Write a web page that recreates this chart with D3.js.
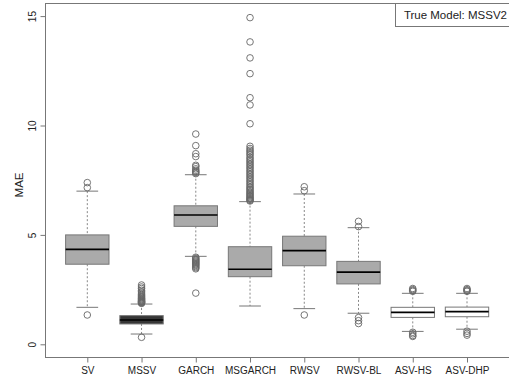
<!DOCTYPE html>
<html>
<head>
  <meta charset="utf-8">
  <title>MAE boxplots</title>
  <script src="https://d3js.org/d3.v7.min.js"></script>
  <style>
    body { margin: 0; background: #fff; font-family: "Liberation Sans", Arial, sans-serif; }
    svg { display: block; }
    .tick text { fill: #222; }
  </style>
</head>
<body>
  <svg width="509" height="384"></svg>
  <script>
    // categories and five-number summaries
    var models = ["SV", "MSSV", "GARCH", "MSGARCH", "RWSV", "RWSV-BL", "ASV-HS", "ASV-DHP"];
    var lowWhisker = [1.69, 0.47, 4.02, 1.75, 1.63, 1.42, 0.59, 0.69];
    var q1 = [3.66, 0.93, 5.39, 3.09, 3.59, 2.76, 1.23, 1.26];
    var median = [4.34, 1.11, 5.91, 3.43, 4.28, 3.30, 1.46, 1.49];
    var q3 = [5.00, 1.31, 6.33, 4.46, 4.94, 3.79, 1.69, 1.70];
    var highWhisker = [7.00, 1.84, 7.75, 6.52, 6.87, 5.33, 2.33, 2.33];
    var boxFill = ["#aaaaaa", "#363636", "#aaaaaa", "#aaaaaa", "#aaaaaa", "#aaaaaa", "#ffffff", "#ffffff"];

    var outliers = [
      [7.39, 7.16, 1.34],
      [2.71, 2.62, 2.55, 2.47, 2.40, 2.34, 2.28, 2.23, 2.19, 2.15, 2.11, 2.08, 2.05, 2.02, 1.99, 1.97, 1.95, 1.93, 1.91, 1.89, 1.87, 0.32],
      [9.61, 9.08, 8.71, 8.58, 8.18, 8.12, 8.02, 7.95, 7.90, 7.85, 7.80,
       3.98, 3.93, 3.88, 3.84, 3.80, 3.76, 3.72, 3.68, 3.64, 3.60, 3.55, 3.50, 3.45, 2.34],
      [14.93, 13.82, 13.09, 12.37, 11.27, 10.94, 10.08, 9.05, 8.95, 8.87, 8.80, 8.72, 8.65, 8.55, 8.48, 8.40,
       8.33, 8.25, 8.18, 8.10, 8.03, 7.95, 7.88, 7.80, 7.73, 7.65, 7.58, 7.50, 7.43, 7.35, 7.28, 7.20,
       7.14, 7.08, 7.02, 6.96, 6.90, 6.85, 6.80, 6.75, 6.70, 6.66, 6.62, 6.58, 6.55],
      [7.20, 7.02, 1.34],
      [5.62, 5.38, 1.22, 1.08, 0.95],
      [2.55, 2.50, 2.46, 2.42, 0.55, 0.48, 0.40, 0.36],
      [2.55, 2.50, 2.46, 2.42, 0.60, 0.50, 0.42]
    ];
    var yTicks = [0, 5, 10, 15];
    var legendText = "True Model: MSSV2";

    var svg = d3.select("svg");

    var x = d3.scaleLinear().domain([1, 8]).range([87.3, 467]);
    var y = d3.scaleLinear().domain([0, 15]).range([344.3, 16.1]);
    var unit = x(2) - x(1);
    var boxW = unit * 0.8, capW = unit * 0.4;

    var rows = models.map(function(m, i) {
      return {name: m, i: i + 1, lo: lowWhisker[i], q1: q1[i], med: median[i],
              q3: q3[i], hi: highWhisker[i], fill: boxFill[i], out: outliers[i]};
    });

    // plot frame (cropped on the right)
    svg.append("rect")
        .attr("x", 45.5).attr("y", 3.5)
        .attr("width", 520).attr("height", 354)
        .attr("fill", "none").attr("stroke", "#777");

    // axes
    var yAxis = d3.axisLeft(y).tickValues(yTicks).tickSize(5);
    var gy = svg.append("g").attr("transform", "translate(45.5,0)").call(yAxis);
    gy.select(".domain").remove();
    gy.selectAll("line").attr("stroke", "#777");
    gy.selectAll("text")
        .attr("font-size", 10)
        .attr("text-anchor", "middle")
        .attr("transform", "rotate(-90)")
        .attr("x", 0)
        .attr("y", -10)
        .attr("dy", "0");

    var xAxis = d3.axisBottom(x).tickValues(d3.range(1, 9))
        .tickFormat(function(d) { return models[d - 1]; })
        .tickSize(5).tickPadding(4);
    var gx = svg.append("g").attr("transform", "translate(0,357.5)").call(xAxis);
    gx.select(".domain").remove();
    gx.selectAll("line").attr("stroke", "#777");
    gx.selectAll("text").attr("font-size", 10);

    svg.append("text")
        .attr("transform", "translate(23," + 185 + ") rotate(-90)")
        .attr("text-anchor", "middle")
        .attr("font-size", 11.5)
        .attr("fill", "#222")
        .text("MAE");

    // boxes
    var g = svg.selectAll(".box").data(rows).enter().append("g").attr("class", "box");

    g.append("line")
        .attr("x1", function(d) { return x(d.i); }).attr("x2", function(d) { return x(d.i); })
        .attr("y1", function(d) { return y(d.hi); }).attr("y2", function(d) { return y(d.q3); })
        .attr("stroke", "#888").attr("stroke-dasharray", "2,2");
    g.append("line")
        .attr("x1", function(d) { return x(d.i); }).attr("x2", function(d) { return x(d.i); })
        .attr("y1", function(d) { return y(d.q1); }).attr("y2", function(d) { return y(d.lo); })
        .attr("stroke", "#888").attr("stroke-dasharray", "2,2");

    ["hi", "lo"].forEach(function(k) {
      g.append("line")
          .attr("x1", function(d) { return x(d.i) - capW / 2; })
          .attr("x2", function(d) { return x(d.i) + capW / 2; })
          .attr("y1", function(d) { return y(d[k]); })
          .attr("y2", function(d) { return y(d[k]); })
          .attr("stroke", "#777");
    });

    g.append("rect")
        .attr("x", function(d) { return x(d.i) - boxW / 2; })
        .attr("y", function(d) { return y(d.q3); })
        .attr("width", boxW)
        .attr("height", function(d) { return y(d.q1) - y(d.q3); })
        .attr("fill", function(d) { return d.fill; })
        .attr("stroke", "#777");

    g.append("line")
        .attr("x1", function(d) { return x(d.i) - boxW / 2; })
        .attr("x2", function(d) { return x(d.i) + boxW / 2; })
        .attr("y1", function(d) { return y(d.med); })
        .attr("y2", function(d) { return y(d.med); })
        .attr("stroke", "#000").attr("stroke-width", 1.7);

    g.selectAll("circle")
        .data(function(d) { return d.out.map(function(v) { return {i: d.i, v: v}; }); })
        .enter().append("circle")
        .attr("cx", function(d) { return x(d.i); })
        .attr("cy", function(d) { return y(d.v); })
        .attr("r", 3.3)
        .attr("fill", "none")
        .attr("stroke", "#666")
        .attr("stroke-width", 0.9);

    // legend box
    svg.append("rect")
        .attr("x", 395.5).attr("y", 3.5)
        .attr("width", 130).attr("height", 23)
        .attr("fill", "#fff").attr("stroke", "#777");
    svg.append("text")
        .attr("x", 507).attr("y", 19)
        .attr("text-anchor", "end")
        .attr("font-size", 11.5)
        .attr("fill", "#222")
        .text(legendText);
  </script>
</body>
</html>
